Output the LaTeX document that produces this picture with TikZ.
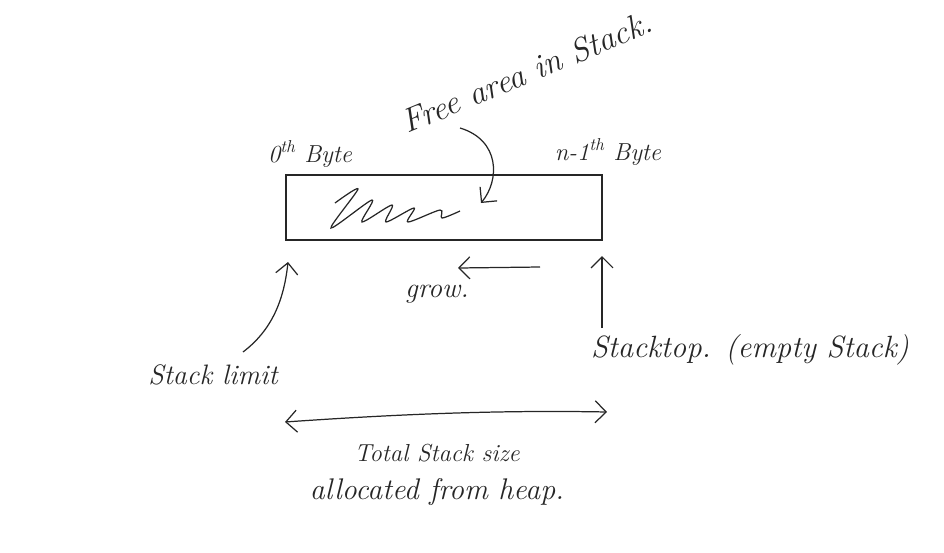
\documentclass[tikz,border=0pt]{standalone}
\usepackage{fontspec}
\usetikzlibrary{arrows.meta}
\usetikzlibrary{positioning}

\begin{document}
\begin{tikzpicture}[
    x=0.02cm, y=-0.02cm,
    pen/.style={line width=0.7pt, black!85},
    arr/.style={pen, -{Straight Barb[length=2.2mm, width=4.4mm]}},
    darr/.style={pen, {Straight Barb[length=2.2mm, width=4.4mm]}-{Straight Barb[length=2.2mm, width=4.4mm]}},
    hand/.style={font=\fontsize{16}{18}\selectfont\itshape, text=black!85, inner sep=1pt},
    small/.style={font=\fontsize{14}{16}\selectfont\itshape, text=black!85, inner sep=1pt},
    stackbox/.style={draw, pen, minimum width=6.32cm, minimum height=1.3cm, inner sep=0pt}
]
\useasboundingbox (0,0) rectangle (944,552);

% Stack
\node[stackbox] (stack) at (444,207.5) {};
\draw[pen] plot[smooth, tension=0.5] coordinates {(335,203) (358,189) (331,228) (372,200) (362,222)
    (392,205) (386,222) (414,208) (408,222) (440,210) (442,218) (460,211)};

% Labels
\node[small] (zero) at (310,154) {0\textsuperscript{th} Byte};
\node[small] (last) at (608,152) {n-1\textsuperscript{th} Byte};
\node[hand, font=\fontsize{19}{21}\selectfont\itshape, rotate=22.6] (free) at (527,72) {Free area in Stack.};
\node[hand] (grow) at (437,294) {grow.};
\node[hand, font=\fontsize{17.5}{20}\selectfont\itshape] (top) at (750,350) {Stacktop. (empty Stack)};
\node[hand] (limit) at (213,375) {Stack limit};
\node[small] (total) at (437,453) {Total Stack size};
\node[hand, font=\fontsize{17}{19}\selectfont\itshape] (heap) [below=0.25cm of total] {allocated from heap.};

% Arrows
\coordinate (freestart) at (460,128);
\coordinate (freetip) at (481,203);
\draw[arr] (freestart) .. controls (500,140) and (500,180) .. (freetip);
\coordinate (growstart) at (540,267);
\coordinate (growtip) at (458,268);
\draw[arr] (growstart) -- (growtip);
\coordinate (topstart) at (602,328);
\coordinate (toptip) at (602,256);
\draw[arr] (topstart) -- (toptip);
\coordinate (limitstart) at (243,352);
\coordinate (limittip) at (288,262);
\draw[arr] (limitstart) .. controls (272,330) and (284,300) .. (limittip);
\coordinate (totleft) at (285,422);
\coordinate (totright) at (607,412);
\draw[darr] (totleft) .. controls (400,414) and (500,410) .. (totright);

\end{tikzpicture}
\end{document}
